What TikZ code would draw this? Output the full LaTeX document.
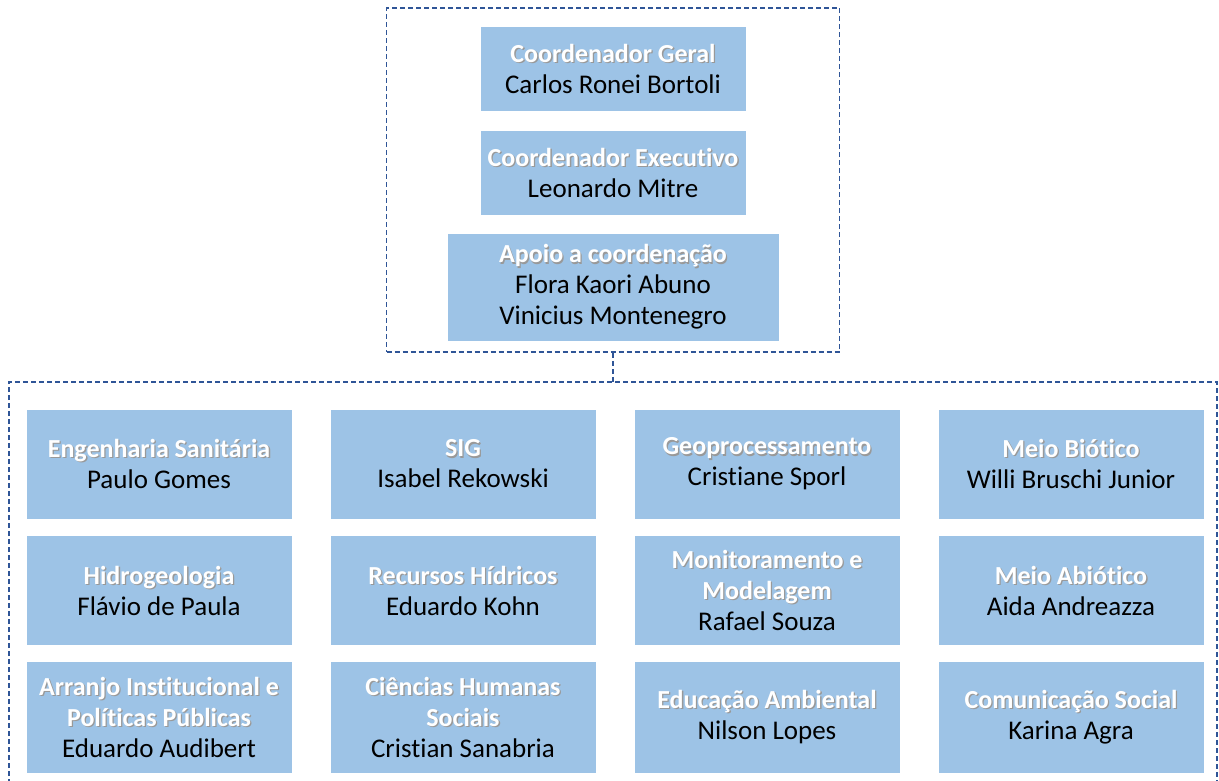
\documentclass[tikz,border=0pt]{standalone}
\usepackage{fontspec}
\setmainfont{Carlito}[Ligatures=NoCommon]
\usetikzlibrary{positioning}
\definecolor{boxblue}{HTML}{9DC3E6}
\definecolor{dashblue}{HTML}{2F5597}
\newcommand\sh[1]{{\fontsize{26}{31}\selectfont\bfseries\makebox[0pt][l]{\hspace{1.3pt}\raisebox{-1.3pt}{\textcolor{black!40}{#1}}}\textcolor{white}{#1}}}
\tikzset{
  unitbox/.style={fill=boxblue, draw=white, line width=0.6pt, minimum width=266pt, minimum height=110pt, inner sep=0pt, align=center, font=\fontsize{27}{31}\selectfont, text=black},
  frame/.style={draw=dashblue, line width=1.8pt, dash pattern=on 5pt off 3pt},
}
\begin{document}
\begin{tikzpicture}[x=1pt,y=-1pt]
\useasboundingbox (0,0) rectangle (1219,780);
% top frame
\node[frame, minimum width=453pt, minimum height=344pt, inner sep=0pt] (topframe) at (613,180) {};
\node[unitbox, minimum height=85pt] (cg) at (613,68.5) {\sh{Coordenador Geral}\\Carlos Ronei Bortoli};
\node[unitbox, minimum height=85pt] (ce) at (613,172.5) {\sh{Coordenador Executivo}\\Leonardo Mitre};
\node[unitbox, minimum width=332pt, minimum height=108pt] (ap) at (613,287) {\sh{Apoio a coordenação}\\Flora Kaori Abuno\\Vinicius Montenegro};
% bottom frame (extends below the picture)
\draw[frame] (9,800) -- (9,382) coordinate (bl) -- (1217,382) -- (1217,800);
\coordinate (bt) at (613,382);
\draw[frame] (topframe.south) -- (bt);
% grid
\node[unitbox] (es) at (159,464) {\sh{Engenharia Sanitária}\\Paulo Gomes};
\node[unitbox] (sig) at (463,464) {\sh{SIG}\\Isabel Rekowski};
\node[unitbox] (geo) at (767,464) {\sh{Geoprocessamento}\\Cristiane Sporl};
\node[unitbox] (mb) at (1071,464) {\sh{Meio Biótico}\\Willi Bruschi Junior};
\node[unitbox] (hid) at (159,590.5) {\sh{Hidrogeologia}\\Flávio de Paula};
\node[unitbox] (rh) at (463,590.5) {\sh{Recursos Hídricos}\\Eduardo Kohn};
\node[unitbox] (mm) at (767,590.5) {\sh{Monitoramento e}\\\sh{Modelagem}\\Rafael Souza};
\node[unitbox] (ma) at (1071,590.5) {\sh{Meio Abiótico}\\Aida Andreazza};
\node[unitbox, minimum height=112pt] (ai) at (159,717) {\sh{Arranjo Institucional e}\\\sh{Políticas Públicas}\\Eduardo Audibert};
\node[unitbox, minimum height=112pt] (ch) at (463,717) {\sh{Ciências Humanas}\\\sh{Sociais}\\Cristian Sanabria};
\node[unitbox, minimum height=112pt] (ea) at (767,717) {\sh{Educação Ambiental}\\Nilson Lopes};
\node[unitbox, minimum height=112pt] (cs) at (1071,717) {\sh{Comunicação Social}\\Karina Agra};
\end{tikzpicture}
\end{document}
